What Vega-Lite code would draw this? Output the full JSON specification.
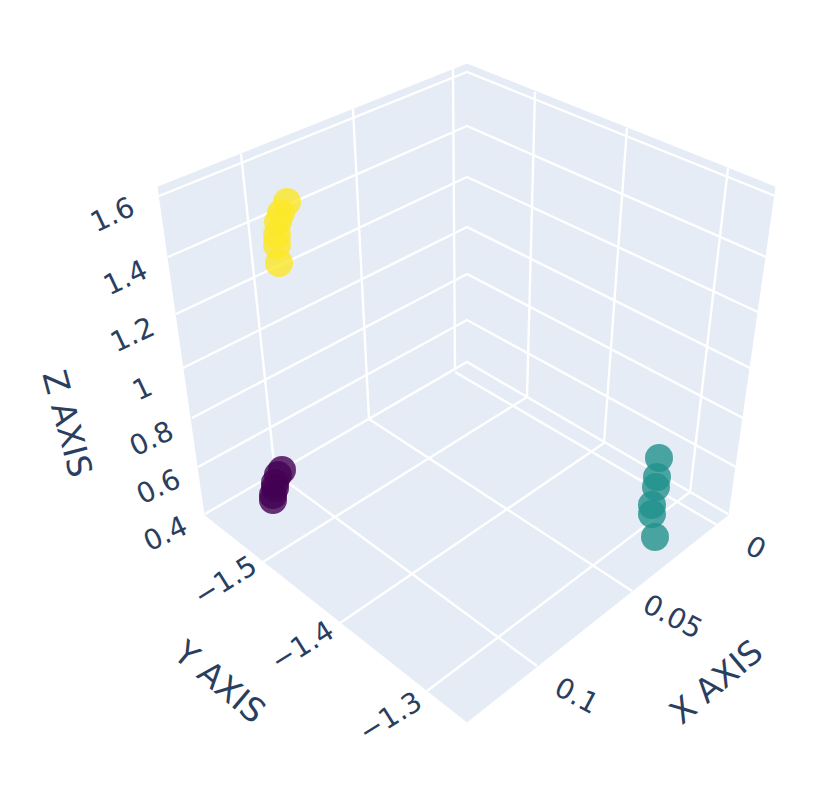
{
"$schema":"https://vega.github.io/schema/vega-lite/v6.json",
"width":831,"height":787,"padding":0,"autosize":{"type":"none"},"background":"white",
"view":{"stroke":null},
"datasets":{
"panes":[
{"pane":"left","seq":1,"px":158,"py":187},{"pane":"left","seq":2,"px":467,"py":64},{"pane":"left","seq":3,"px":467,"py":362},{"pane":"left","seq":4,"px":205,"py":515},{"pane":"left","seq":5,"px":158,"py":187},
{"pane":"right","seq":1,"px":467,"py":64},{"pane":"right","seq":2,"px":775,"py":187},{"pane":"right","seq":3,"px":728,"py":515},{"pane":"right","seq":4,"px":467,"py":362},{"pane":"right","seq":5,"px":467,"py":64},
{"pane":"floor","seq":1,"px":205,"py":515},{"pane":"floor","seq":2,"px":467,"py":362},{"pane":"floor","seq":3,"px":728,"py":515},{"pane":"floor","seq":4,"px":467,"py":722},{"pane":"floor","seq":5,"px":205,"py":515}
],
"grid":[
{"line":"z1.6","seq":1,"px":159,"py":196},{"line":"z1.6","seq":2,"px":467,"py":72},{"line":"z1.6","seq":3,"px":775,"py":196},
{"line":"z1.4","seq":1,"px":168,"py":257},{"line":"z1.4","seq":2,"px":467,"py":126},{"line":"z1.4","seq":3,"px":766,"py":257},
{"line":"z1.2","seq":1,"px":176,"py":314},{"line":"z1.2","seq":2,"px":467,"py":177},{"line":"z1.2","seq":3,"px":758,"py":312},
{"line":"z1","seq":1,"px":183,"py":368},{"line":"z1","seq":2,"px":467,"py":227},{"line":"z1","seq":3,"px":750,"py":368},
{"line":"z0.8","seq":1,"px":192,"py":418},{"line":"z0.8","seq":2,"px":467,"py":274},{"line":"z0.8","seq":3,"px":743,"py":418},
{"line":"z0.6","seq":1,"px":198,"py":467},{"line":"z0.6","seq":2,"px":467,"py":320},{"line":"z0.6","seq":3,"px":736,"py":467},
{"line":"z0.4","seq":1,"px":205,"py":514},{"line":"z0.4","seq":2,"px":467,"py":362},{"line":"z0.4","seq":3,"px":728,"py":514},
{"line":"wl1","seq":1,"px":241,"py":154},{"line":"wl1","seq":2,"px":275,"py":473},
{"line":"wl2","seq":1,"px":353,"py":109},{"line":"wl2","seq":2,"px":369,"py":419},
{"line":"wl3","seq":1,"px":453,"py":69},{"line":"wl3","seq":2,"px":455,"py":369},
{"line":"wr1","seq":1,"px":535,"py":92},{"line":"wr1","seq":2,"px":527,"py":397},
{"line":"wr2","seq":1,"px":627,"py":128},{"line":"wr2","seq":2,"px":604,"py":443},
{"line":"wr3","seq":1,"px":728,"py":168},{"line":"wr3","seq":2,"px":690,"py":492},
{"line":"fa","seq":1,"px":263,"py":562},{"line":"fa","seq":2,"px":527,"py":397},
{"line":"fb","seq":1,"px":340,"py":623},{"line":"fb","seq":2,"px":604,"py":443},
{"line":"fc","seq":1,"px":427,"py":691},{"line":"fc","seq":2,"px":690,"py":492},
{"line":"fd","seq":1,"px":537,"py":666},{"line":"fd","seq":2,"px":275,"py":473},
{"line":"fe","seq":1,"px":632,"py":591},{"line":"fe","seq":2,"px":369,"py":419},
{"line":"ff","seq":1,"px":717,"py":525},{"line":"ff","seq":2,"px":455,"py":372}
],
"points":[
{"cluster":"a","px":273,"py":500},{"cluster":"a","px":273,"py":495},{"cluster":"a","px":275,"py":488},{"cluster":"a","px":275,"py":483},{"cluster":"a","px":278,"py":475},{"cluster":"a","px":282,"py":470},
{"cluster":"b","px":655,"py":537},{"cluster":"b","px":652,"py":514},{"cluster":"b","px":652,"py":505},{"cluster":"b","px":656,"py":487},{"cluster":"b","px":657,"py":477},{"cluster":"b","px":659,"py":458},
{"cluster":"c","px":279,"py":263},{"cluster":"c","px":277,"py":245},{"cluster":"c","px":277,"py":235},{"cluster":"c","px":278,"py":222},{"cluster":"c","px":281,"py":213},{"cluster":"c","px":287,"py":202}
],
"zticks":[{"label":"1.6","px":113,"py":216},{"label":"1.4","px":126,"py":279},{"label":"1.2","px":133,"py":336},{"label":"1","px":143,"py":390},{"label":"0.8","px":152,"py":440},{"label":"0.6","px":159,"py":488},{"label":"0.4","px":166,"py":535}],
"yticks":[{"label":"−1.5","px":226,"py":582},{"label":"−1.4","px":303,"py":647},{"label":"−1.3","px":391,"py":718}],
"xticks":[{"label":"0","px":755,"py":549},{"label":"0.05","px":672,"py":618},{"label":"0.1","px":576,"py":697}]
},
"encoding":{
"x":{"field":"px","type":"quantitative","scale":{"domain":[0,831],"nice":false,"zero":false},"axis":null},
"y":{"field":"py","type":"quantitative","scale":{"domain":[787,0],"nice":false,"zero":false},"axis":null}
},
"layer":[
{"data":{"name":"panes"},"mark":{"type":"line","fill":"#E5ECF6","stroke":"#E5ECF6","strokeWidth":1},"encoding":{"detail":{"field":"pane"},"order":{"field":"seq"}}},
{"data":{"name":"grid"},"mark":{"type":"line","stroke":"white","strokeWidth":2.4},"encoding":{"detail":{"field":"line"},"order":{"field":"seq"}}},
{"data":{"name":"points"},"mark":{"type":"circle","size":784,"opacity":0.8},"encoding":{"color":{"field":"cluster","type":"nominal","legend":null,"scale":{"domain":["a","b","c"],"range":["#440154","#21918c","#fde725"]}}}},
{"data":{"name":"zticks"},"mark":{"type":"text","font":"DejaVu Sans","fontSize":28,"angle":335,"color":"#2a3f5f","align":"center","baseline":"middle"},"encoding":{"text":{"field":"label"}}},
{"data":{"name":"yticks"},"mark":{"type":"text","font":"DejaVu Sans","fontSize":28,"angle":328,"color":"#2a3f5f","align":"center","baseline":"middle"},"encoding":{"text":{"field":"label"}}},
{"data":{"name":"xticks"},"mark":{"type":"text","font":"DejaVu Sans","fontSize":28,"angle":28,"color":"#2a3f5f","align":"center","baseline":"middle"},"encoding":{"text":{"field":"label"}}},
{"data":{"values":[{"label":"Z AXIS","px":66,"py":424}]},"mark":{"type":"text","font":"DejaVu Sans","fontSize":33,"angle":75,"color":"#2a3f5f","align":"center","baseline":"middle"},"encoding":{"text":{"field":"label"}}},
{"data":{"values":[{"label":"Y AXIS","px":219,"py":683}]},"mark":{"type":"text","font":"DejaVu Sans","fontSize":33,"angle":40,"color":"#2a3f5f","align":"center","baseline":"middle"},"encoding":{"text":{"field":"label"}}},
{"data":{"values":[{"label":"X AXIS","px":717,"py":683}]},"mark":{"type":"text","font":"DejaVu Sans","fontSize":33,"angle":320,"color":"#2a3f5f","align":"center","baseline":"middle"},"encoding":{"text":{"field":"label"}}}
]
}
